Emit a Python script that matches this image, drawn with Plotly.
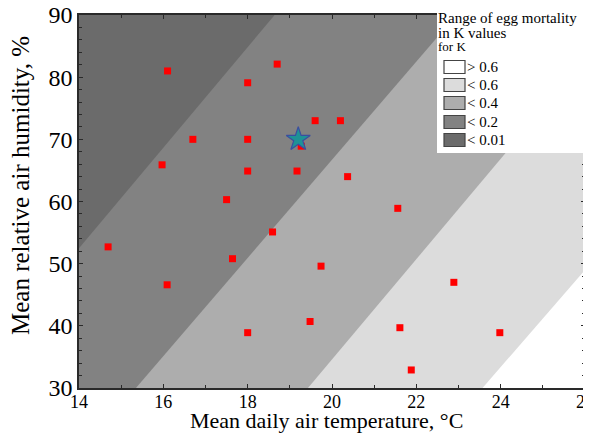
import plotly.graph_objects as go

# ---- data ----
temp = [16.1, 18.7, 18.0, 16.7, 18.0, 19.6, 20.2, 19.27, 15.97, 18.0, 19.17, 20.37,
        17.5, 21.56, 18.59, 14.69, 17.64, 19.74, 16.09, 22.89, 18.0, 19.48, 21.61,
        23.98, 21.88]
humidity = [81.0, 82.1, 79.1, 70.0, 70.0, 73.0, 73.0, 68.9, 65.9, 64.9, 64.9, 64.0,
            60.3, 58.9, 55.1, 52.7, 50.8, 49.6, 46.6, 47.0, 38.9, 40.7, 39.7,
            38.9, 32.9]
star_temp = [19.2]
star_humidity = [70.0]

# zone boundaries: temperature where each boundary line meets RH=30 and RH=90
boundary_y = [30, 90]
boundary_x_at_30 = [11.22, 15.35, 19.43, 23.57]
boundary_x_at_90 = [18.64, 22.95, 26.87, 31.24]

zone_labels = ["> 0.6", "< 0.6", "< 0.4", "< 0.2", "< 0.01"]
zone_colors = ["#ffffff", "#dcdcdc", "#adadad", "#828282", "#6b6b6b"]
legend_title = ["Range of egg mortality", "in K values", "for K"]
x_title = "Mean daily air temperature, °C"
y_title = "Mean relative air humidity, %"

FONT = "Liberation Serif"
OFF = 8  # page body margin
W, H = 591 - OFF, 433 - OFF
ML, MT = 79 - OFF, 15 - OFF
PW, PH = 506, 373
MR, MB = W - ML - PW, H - MT - PH


def px(x):  # page pixel -> paper x
    return (x - OFF - ML) / PW


def py(y):  # page pixel -> paper y
    return (MT + PH - (y - OFF)) / PH


fig = go.Figure()

zone_fill_order = zone_colors[::-1][1:]  # <0.2, <0.4, <0.6, >0.6
for i in range(4):
    xb, xt = boundary_x_at_30[i], boundary_x_at_90[i]
    fig.add_trace(go.Scatter(
        x=[xb, xt, 40, 40, xb],
        y=[boundary_y[0], boundary_y[1], boundary_y[1], boundary_y[0], boundary_y[0]],
        fill="toself", fillcolor=zone_fill_order[i], line=dict(width=0),
        mode="lines", hoverinfo="skip", showlegend=False))

fig.add_trace(go.Scatter(
    x=temp, y=humidity, mode="markers",
    marker=dict(symbol="square", size=7, color="#ff0000", line=dict(width=0)),
    showlegend=False))

fig.add_trace(go.Scatter(
    x=star_temp, y=star_humidity, mode="markers",
    marker=dict(symbol="star", size=18, color="#1e9296",
                line=dict(width=1.2, color="#3b4ea0")),
    showlegend=False))

axis_common = dict(
    showline=True, linecolor="#2a2a2a", linewidth=1.5, mirror="ticks",
    ticks="inside", ticklen=4, tickcolor="#2a2a2a", showgrid=False, zeroline=False,
    ticklabeloverflow="allow",
)

fig.update_xaxes(
    range=[14, 26], dtick=2, tick0=14, **axis_common,
    minor=dict(dtick=1, ticks="inside", ticklen=3, tickcolor="#2a2a2a"),
    tickfont=dict(family=FONT, size=18, color="black"),
    ticklabelstandoff=-3,
)
fig.update_yaxes(
    range=[30, 90], dtick=10, tick0=30, **axis_common,
    minor=dict(dtick=2, ticks="inside", ticklen=3, tickcolor="#2a2a2a"),
    tickfont=dict(family=FONT, size=24, color="black"),
)

shapes = []
annotations = []
# axis titles
annotations.append(dict(text=x_title, xref="paper", yref="paper", x=px(326), y=py(420),
                        xanchor="center", yanchor="middle", showarrow=False,
                        font=dict(family=FONT, size=22, color="black")))
annotations.append(dict(text=y_title, xref="paper", yref="paper", x=px(20), y=py(186),
                        xanchor="center", yanchor="middle", showarrow=False, textangle=-90,
                        font=dict(family=FONT, size=25, color="black")))
# legend box
shapes.append(dict(type="rect", xref="paper", yref="paper",
                   x0=px(437), x1=px(583.5), y0=py(153), y1=py(9),
                   fillcolor="white", line=dict(width=0), layer="above"))
for txt, yc, sz in zip(legend_title, [18, 33, 47], [15, 15, 13]):
    annotations.append(dict(text=txt, xref="paper", yref="paper", x=px(436), y=py(yc),
                            xanchor="left", yanchor="middle", showarrow=False,
                            font=dict(family=FONT, size=sz, color="black")))
row_y = [67, 85, 103, 122, 140]
for lab, col, yc in zip(zone_labels, zone_colors, row_y):
    shapes.append(dict(type="rect", xref="paper", yref="paper",
                       x0=px(444), x1=px(465), y0=py(yc + 6.5), y1=py(yc - 6.5),
                       fillcolor=col, line=dict(width=1.2, color="#444444"), layer="above"))
    annotations.append(dict(text=lab, xref="paper", yref="paper", x=px(465), y=py(yc),
                            xanchor="left", yanchor="middle", showarrow=False,
                            font=dict(family=FONT, size=15, color="black")))

fig.update_layout(
    width=W, height=H,
    margin=dict(l=ML, r=MR, t=MT, b=MB, autoexpand=False),
    plot_bgcolor=zone_colors[-1], paper_bgcolor="white",
    shapes=shapes, annotations=annotations,
    showlegend=False,
)

fig.write_html("out.html")
